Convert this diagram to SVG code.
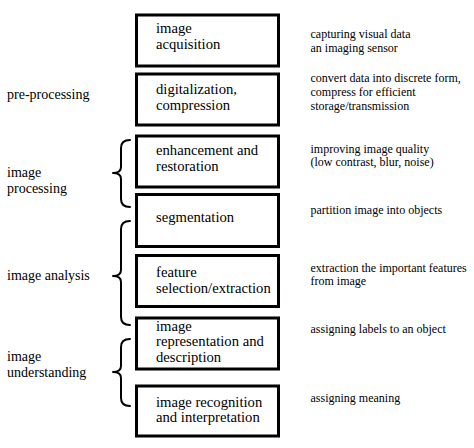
<svg xmlns="http://www.w3.org/2000/svg" width="474" height="448" viewBox="0 0 474 448">
<style>
.box{fill:#fff;stroke:#000;stroke-width:3}
text{font-family:'Liberation Serif','Times New Roman',Times,'DejaVu Serif',serif;fill:#000}
.bt{font-size:14.67px}
.lt{font-size:14px}
.rt{font-size:12px}
.brace{fill:none;stroke:#000;stroke-width:2;stroke-linecap:round;stroke-linejoin:round}
</style>
<rect width="474" height="448" fill="#fff"/>
<g id="n1"><rect class="box" x="136.5" y="15" width="142" height="51"/>
<text class="bt" x="156" y="33">image</text><text class="bt" x="156" y="49">acquisition</text></g>
<g id="n2"><rect class="box" x="136.5" y="74" width="142" height="51"/>
<text class="bt" x="156" y="94">digitalization,</text><text class="bt" x="156" y="110">compression</text></g>
<g id="n3"><rect class="box" x="136.5" y="136" width="142" height="51"/>
<text class="bt" x="156" y="155">enhancement and</text><text class="bt" x="156" y="171">restoration</text></g>
<g id="n4"><rect class="box" x="136.5" y="194.5" width="142" height="52"/>
<text class="bt" x="156" y="222">segmentation</text></g>
<g id="n5"><rect class="box" x="136.5" y="255.5" width="142" height="51"/>
<text class="bt" x="156" y="277">feature</text><text class="bt" x="156" y="292.5">selection/extraction</text></g>
<g id="n6"><rect class="box" x="136.5" y="318" width="142" height="51"/>
<text class="bt" x="156" y="331">image</text><text class="bt" x="156" y="346">representation and</text><text class="bt" x="156" y="361.5">description</text></g>
<g id="n7"><rect class="box" x="136.5" y="386" width="142" height="50"/>
<text class="bt" x="156" y="407">image recognition</text><text class="bt" x="156" y="422">and interpretation</text></g>
<g id="left-labels">
<text class="lt" x="7" y="98.5">pre-processing</text>
<text class="lt" x="7" y="177">image</text><text class="lt" x="7" y="193">processing</text>
<text class="lt" x="7" y="279.5">image analysis</text>
<text class="lt" x="7" y="361">image</text><text class="lt" x="7" y="377">understanding</text>
</g>
<g id="descriptions">
<text class="rt" x="310.5" y="37.5">capturing visual data</text><text class="rt" x="310.5" y="51.5">an imaging sensor</text>
<text class="rt" x="310.5" y="81.5">convert data into discrete form,</text><text class="rt" x="310.5" y="96">compress for efficient</text><text class="rt" x="310.5" y="110">storage/transmission</text>
<text class="rt" x="310.5" y="152.5">improving image quality</text><text class="rt" x="310.5" y="166">(low contrast, blur, noise)</text>
<text class="rt" x="310.5" y="213.5">partition image into objects</text>
<text class="rt" x="310.5" y="271.5">extraction the important features</text><text class="rt" x="310.5" y="285">from image</text>
<text class="rt" x="310.5" y="332.5">assigning labels to an object</text>
<text class="rt" x="310.5" y="401.5">assigning meaning</text>
</g>
<g id="connectors">
<path class="brace" d="M130,140 Q121,140 121,148 L121,167 Q121,173 113,173 Q121,173 121,179 L121,199 Q121,207 130,207"/>
<path class="brace" d="M130,221 Q121,221 121,229 L121,270 Q121,276 113,276 Q121,276 121,282 L121,317 Q121,325 130,325"/>
<path class="brace" d="M130,339 Q121,339 121,347 L121,366 Q121,372 113,372 Q121,372 121,378 L121,398 Q121,406 130,406"/>
</g>
</svg>
